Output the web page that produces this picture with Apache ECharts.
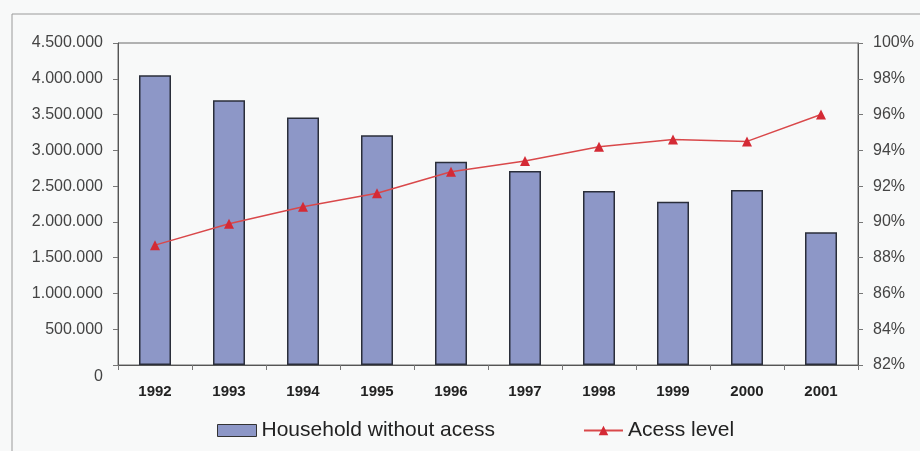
<!DOCTYPE html>
<html>
<head>
<meta charset="utf-8">
<script src="https://cdn.jsdelivr.net/npm/echarts@6/dist/echarts.min.js"></script>
<style>
html,body{margin:0;padding:0;background:#f8f9f9;}
#c{width:920px;height:451px;}
</style>
</head>
<body>
<div id="c"></div>
<script>
var years = ['1992','1993','1994','1995','1996','1997','1998','1999','2000','2001'];
var householdsWithoutAccess = [4050000, 3700000, 3460000, 3210000, 2840000, 2710000, 2430000, 2280000, 2445000, 1855000];
var accessLevel = [88.7, 89.9, 90.85, 91.6, 92.8, 93.4, 94.2, 94.6, 94.5, 96.0];
var seriesNames = ['Household without acess', 'Acess level'];

function fmtDots(v){
  var s = String(Math.round(v));
  return s.replace(/\B(?=(\d{3})+(?!\d))/g, '.');
}

var chart = echarts.init(document.getElementById('c'), null, {renderer:'canvas'});
chart.setOption({
  backgroundColor: '#f8f9f9',
  animation: false,
  textStyle: {fontFamily: 'Liberation Sans, Arial, sans-serif'},
  grid: {left: 118, right: 62, top: 43, bottom: 86, show: true, borderColor: '#6a6a6a', borderWidth: 1, backgroundColor: 'transparent'},
  graphic: [
    {type: 'line', shape: {x1: 12, y1: 14, x2: 920, y2: 14}, style: {stroke: '#9a9a9a', lineWidth: 1}},
    {type: 'line', shape: {x1: 12, y1: 14, x2: 12, y2: 451}, style: {stroke: '#9a9a9a', lineWidth: 1}}
  ],
  legend: {
    left: 212, top: 415,
    itemWidth: 39, itemHeight: 12, itemGap: 88,
    textStyle: {fontSize: 21, color: '#222', fontFamily: 'Liberation Sans, Arial, sans-serif'},
    data: [
      {name: seriesNames[0], icon: 'rect', itemStyle: {borderColor: '#333', borderWidth: 1}},
      {name: seriesNames[1]}
    ]
  },
  xAxis: {
    type: 'category', data: years, boundaryGap: true,
    axisLine: {lineStyle: {color: '#555', width: 1}},
    axisTick: {show: true, length: 5, lineStyle: {color: '#777'}},
    axisLabel: {color: '#222', fontWeight: 'bold', fontSize: 15, margin: 19}
  },
  yAxis: [
    {
      type: 'value', min: 0, max: 4500000, interval: 500000,
      axisLine: {show: true, lineStyle: {color: '#555'}},
      axisTick: {show: true, length: 5, lineStyle: {color: '#777'}},
      splitLine: {show: false},
      axisLabel: {color: '#444', fontSize: 16, margin: 15,
        formatter: function(v){ return v === 0 ? '{z|0}' : fmtDots(v); },
        rich: {z: {fontSize: 16, color: '#444', padding: [24, 0, 0, 0]}}
      }
    },
    {
      type: 'value', min: 82, max: 100, interval: 2, position: 'right',
      axisLine: {show: true, lineStyle: {color: '#555'}},
      axisTick: {show: true, length: 5, lineStyle: {color: '#777'}},
      splitLine: {show: false},
      axisLabel: {color: '#444', fontSize: 16, margin: 15, formatter: '{value}%'}
    }
  ],
  series: [
    {
      name: seriesNames[0], type: 'bar', data: householdsWithoutAccess, yAxisIndex: 0,
      barWidth: 32,
      itemStyle: {color: '#8d97c7', borderColor: '#2a2e3a', borderWidth: 1.5}
    },
    {
      name: seriesNames[1], type: 'line', data: accessLevel, yAxisIndex: 1,
      symbol: 'triangle', symbolSize: 10,
      lineStyle: {color: '#d9484a', width: 1.5},
      itemStyle: {color: '#d42a35'}
    }
  ]
});
</script>
</body>
</html>
